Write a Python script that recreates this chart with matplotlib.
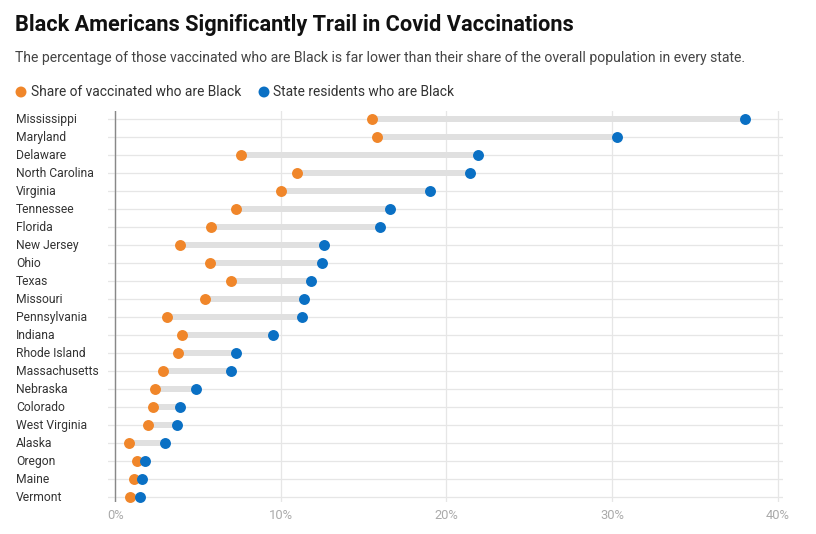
import matplotlib.pyplot as plt

states = ["Mississippi", "Maryland", "Delaware", "North Carolina", "Virginia",
          "Tennessee", "Florida", "New Jersey", "Ohio", "Texas", "Missouri",
          "Pennsylvania", "Indiana", "Rhode Island", "Massachusetts", "Nebraska",
          "Colorado", "West Virginia", "Alaska", "Oregon", "Maine", "Vermont"]
vaccinated = [15.5, 15.8, 7.6, 11.0, 10.0, 7.3, 5.8, 3.9, 5.7, 7.0, 5.4,
              3.1, 4.0, 3.8, 2.9, 2.4, 2.3, 2.0, 0.8, 1.3, 1.1, 0.9]
residents = [38.0, 30.3, 21.9, 21.4, 19.0, 16.6, 16.0, 12.6, 12.5, 11.8, 11.4,
             11.3, 9.5, 7.3, 7.0, 4.9, 3.9, 3.7, 3.0, 1.8, 1.6, 1.5]
xticks = [0, 10, 20, 30, 40]
xtick_labels = ["0%", "10%", "20%", "30%", "40%"]

orange = "#f0862a"
blue = "#0a70c4"

plt.rcParams['font.family'] = ['Roboto', 'DejaVu Sans']

fig = plt.figure(figsize=(8.16, 5.34), dpi=100)
ax = fig.add_axes([108 / 816, 32 / 534, (783 - 108) / 816, (502 - 111) / 534])

y = list(range(len(states)))

# dumbbell bars
ax.hlines(y, vaccinated, residents, color="#e0e0e0", linewidth=4.3, zorder=2)
ax.scatter(vaccinated, y, s=62, color=orange, zorder=3, linewidths=0)
ax.scatter(residents, y, s=62, color=blue, zorder=3, linewidths=0)

ax.set_xlim(-0.44, 40.32)
ax.set_ylim(21.3, -0.42)

ax.set_xticks(xticks)
ax.set_xticklabels(xtick_labels, color="#aaaaaa", fontsize=9.3)
ax.set_yticks(y)
ax.set_yticklabels([])
ax.tick_params(length=0, pad=5)
ax.grid(True, color="#e6e6e6", linewidth=0.9, zorder=0)
ax.set_axisbelow(True)
for s in ax.spines.values():
    s.set_visible(False)
ax.axvline(0, color="#888888", linewidth=1.0, zorder=1)

# state names, left aligned at the figure edge
for i, name in enumerate(states):
    fig.text(16 / 816, 1 - (119.5 + 18 * i) / 534, name, fontsize=8.7,
             color="#333333", va="center", ha="left")

fig.text(15 / 816, 1 - 25 / 534, "Black Americans Significantly Trail in Covid Vaccinations",
         fontsize=15.7, fontweight="bold", color="#111111", va="center", ha="left")
fig.text(15 / 816, 1 - 58 / 534,
         "The percentage of those vaccinated who are Black is far lower than their share of the overall population in every state.",
         fontsize=10.1, color="#444444", va="center", ha="left")

# legend
fig.text(31 / 816, 1 - 92 / 534, "Share of vaccinated who are Black", fontsize=9.9,
         color="#333333", va="center", ha="left")
fig.text(273 / 816, 1 - 92 / 534, "State residents who are Black", fontsize=9.9,
         color="#333333", va="center", ha="left")
lg = fig.add_axes([0, 0, 1, 1], facecolor="none")
lg.set_xlim(0, 816)
lg.set_ylim(534, 0)
lg.axis("off")
lg.scatter([21, 264], [92, 92], s=62, color=[orange, blue], linewidths=0)

fig.savefig("out.png", dpi=100)
